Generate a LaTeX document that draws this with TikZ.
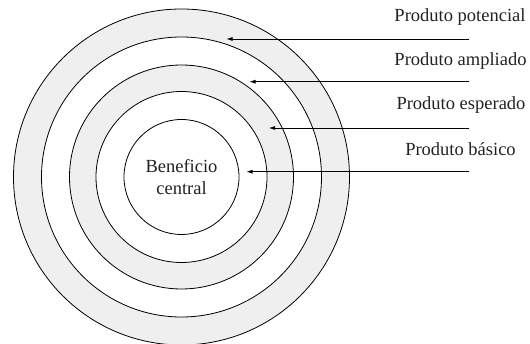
\documentclass[tikz,border=0pt]{standalone}
\usepackage{fontspec}
\setmainfont{Liberation Serif}
\usetikzlibrary{arrows.meta}
\definecolor{ringgray}{HTML}{EFEFEF}
\definecolor{txt}{HTML}{222222}
\begin{document}
\begin{tikzpicture}[x=1pt,y=-1pt,
  ring/.style={draw=black,line width=0.8pt},
  lbl/.style={anchor=base,text=txt,font=\fontsize{18.5}{22}\selectfont,inner sep=0pt},
  pointer/.style={draw=black,line width=0.7pt,-{Latex[length=6pt,width=4pt]}}]
\useasboundingbox (0,0) rectangle (530,344);
\coordinate (c) at (181.5,177);
\fill[ringgray] (c) circle (168);
\fill[white] (c) circle (140);
\fill[ringgray] (c) circle (112);
\fill[white] (c) circle (85.5);
\draw[ring] (c) circle (168);
\draw[ring] (c) circle (140);
\draw[ring] (c) circle (112);
\draw[ring] (c) circle (85.5);
\node[ring,circle,minimum size=115pt,inner sep=0pt,text=txt,align=center,
  font=\fontsize{18.5}{22}\selectfont] (core) at (c) {Beneficio\\central};
\node[lbl] (l1) at (460,21.5) {Produto potencial};
\node[lbl] (l2) at (460.5,65.5) {Produto ampliado};
\node[lbl] (l3) at (461,110) {Produto esperado};
\node[lbl] (l4) at (460.5,156) {Produto básico};
\coordinate (s1) at (469,39);
\coordinate (s2) at (469,81.7);
\coordinate (s3) at (469,128);
\coordinate (s4) at (469,171.7);
\coordinate (t1) at (226.5,39);
\coordinate (t2) at (249.5,81.7);
\coordinate (t3) at (269,128);
\coordinate (t4) at (246.5,171.7);
\draw[pointer] (s1) -- (t1);
\draw[pointer] (s2) -- (t2);
\draw[pointer] (s3) -- (t3);
\draw[pointer] (s4) -- (t4);
\end{tikzpicture}
\end{document}
